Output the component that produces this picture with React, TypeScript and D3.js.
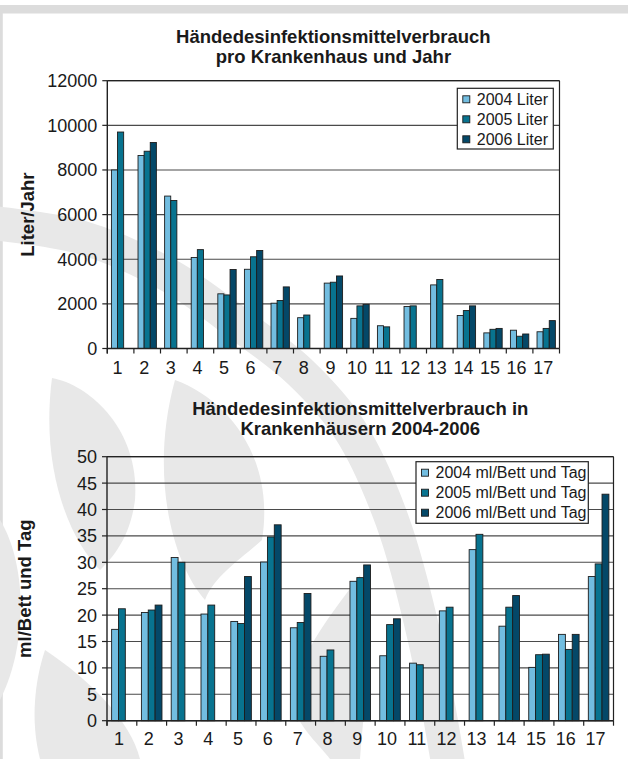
import React from "react";
import * as d3 from "d3";

// ---------- data ----------
const hospitals = ["1", "2", "3", "4", "5", "6", "7", "8", "9", "10", "11", "12", "13", "14", "15", "16", "17"];

const literSeries = ["2004 Liter", "2005 Liter", "2006 Liter"];
const liter2004 = [8000, 8650, 6830, 4080, 2450, 3550, 2030, 1380, 2930, 1350, 1020, 1880, 2850, 1480, 700, 820, 750];
const liter2005 = [9700, 8840, 6630, 4430, 2400, 4110, 2150, 1500, 2970, 1910, 970, 1910, 3090, 1700, 860, 550, 900];
const liter2006 = [null, 9230, null, null, 3540, 4390, 2760, null, 3250, 1980, null, null, null, 1910, 900, 650, 1250];
const literTicks = [0, 2000, 4000, 6000, 8000, 10000, 12000];

const mlSeries = ["2004 ml/Bett und Tag", "2005 ml/Bett und Tag", "2006 ml/Bett und Tag"];
const ml2004 = [17.3, 20.5, 30.9, 20.2, 18.8, 30.05, 17.6, 12.2, 26.4, 12.3, 10.9, 20.8, 32.4, 17.9, 10.1, 16.35, 27.3];
const ml2005 = [21.2, 20.96, 30.0, 21.9, 18.4, 34.8, 18.6, 13.4, 27.1, 18.2, 10.6, 21.5, 35.3, 21.5, 12.5, 13.5, 29.7];
const ml2006 = [null, 21.9, null, null, 27.3, 37.1, 24.1, null, 29.5, 19.3, null, null, null, 23.7, 12.6, 16.35, 42.9];
const mlTicks = [0, 5, 10, 15, 20, 25, 30, 35, 40, 45, 50];

const titleTop = ["Händedesinfektionsmittelverbrauch", "pro Krankenhaus und Jahr"];
const titleBottom = ["Händedesinfektionsmittelverbrauch in", "Krankenhäusern 2004-2006"];

const seriesColors = ["#72BDE0", "#08738F", "#044868"];

const FONT = "'Liberation Sans', Arial, Helvetica, sans-serif";

type Num = number | null;

interface ChartProps {
  left: number;
  right: number;
  top: number;
  bottom: number;
  title: string[];
  titleY: number[];
  yLabel: string;
  yLabelX: number;
  series: string[];
  values: Num[][];
  ticks: number[];
  legend: { x: number; y: number; w: number; h: number };
  xLabelY: number;
}

function BarChart(p: ChartProps) {
  const x0 = d3.scaleBand<string>().domain(hospitals).range([p.left, p.right]).paddingInner(0).paddingOuter(0);
  const bw = x0.bandwidth();
  const gw = bw * 0.69;
  const x1 = d3
    .scaleBand<string>()
    .domain(p.series)
    .range([(bw - gw) / 2, (bw + gw) / 2])
    .padding(0);
  const yMax = d3.max(p.ticks) as number;
  const y = d3.scaleLinear().domain([0, yMax]).range([p.bottom, p.top]);
  const cx = (p.left + p.right) / 2;
  const cy = (p.top + p.bottom) / 2;
  const tickBounds = d3.range(hospitals.length + 1).map((i) => p.left + i * bw);

  return (
    <g>
      {/* title */}
      {p.title.map((t, i) => (
        <text key={i} x={cx} y={p.titleY[i]} textAnchor="middle" fontWeight="bold" fontSize={18.5} fill="#1a1a1a">
          {t}
        </text>
      ))}
      {/* gridlines */}
      {p.ticks.map((t) => (
        <line key={t} x1={p.left} x2={p.right} y1={y(t)} y2={y(t)} stroke="#4a4a4a" strokeWidth={1.1} />
      ))}
      {/* bars */}
      {hospitals.map((h, i) => (
        <g key={h} transform={`translate(${x0(h)},0)`}>
          {p.series.map((s, si) => {
            const v = p.values[si][i];
            if (v == null) return null;
            return (
              <rect
                key={s}
                x={x1(s)}
                y={y(v)}
                width={x1.bandwidth()}
                height={y(0) - y(v)}
                fill={seriesColors[si]}
                stroke="#1c1c1c"
                strokeWidth={0.9}
              />
            );
          })}
        </g>
      ))}
      {/* plot border right + top */}
      <line x1={p.right} x2={p.right} y1={p.top} y2={p.bottom} stroke="#222" strokeWidth={1.2} />
      <line x1={p.left} x2={p.right} y1={p.top} y2={p.top} stroke="#222" strokeWidth={1.2} />
      {/* y axis */}
      <line x1={p.left} x2={p.left} y1={p.top} y2={p.bottom + 5} stroke="#222" strokeWidth={1.4} />
      {p.ticks.map((t) => (
        <g key={t}>
          <line x1={p.left - 5} x2={p.left} y1={y(t)} y2={y(t)} stroke="#222" strokeWidth={1.2} />
          <text x={p.left - 10} y={y(t)} dy="0.36em" textAnchor="end" fontSize={18} fill="#1a1a1a">
            {t}
          </text>
        </g>
      ))}
      {/* x axis */}
      <line x1={p.left} x2={p.right} y1={p.bottom} y2={p.bottom} stroke="#222" strokeWidth={1.4} />
      {tickBounds.map((tx, i) => (
        <line key={i} x1={tx} x2={tx} y1={p.bottom} y2={p.bottom + 5} stroke="#222" strokeWidth={1.2} />
      ))}
      {hospitals.map((h) => (
        <text key={h} x={(x0(h) as number) + bw / 2 - 3} y={p.xLabelY} textAnchor="middle" fontSize={18} fill="#1a1a1a">
          {h}
        </text>
      ))}
      {/* y label */}
      <text
        transform={`translate(${p.yLabelX},${cy}) rotate(-90)`}
        textAnchor="middle"
        fontWeight="bold"
        fontSize={18.5}
        fill="#1a1a1a"
      >
        {p.yLabel}
      </text>
      {/* legend */}
      <rect x={p.legend.x} y={p.legend.y} width={p.legend.w} height={p.legend.h} fill="#fff" stroke="#222" strokeWidth={1.2} />
      {p.series.map((s, si) => {
        const ry = p.legend.y + 11 + si * 20;
        return (
          <g key={s}>
            <rect x={p.legend.x + 5.5} y={ry - 3.5} width={7} height={7} fill={seriesColors[si]} stroke="#1c1c1c" strokeWidth={0.9} />
            <text x={p.legend.x + 19.5} y={ry} dy="0.36em" fontSize={16} fill="#1a1a1a">
              {s}
            </text>
          </g>
        );
      })}
    </g>
  );
}

function Watermark() {
  const arc = d3.line().curve(d3.curveCatmullRom.alpha(0.5))([
    [-20, 222],
    [80, 237],
    [170, 276],
    [240, 325],
    [300, 372],
    [350, 430],
    [392, 520],
    [425, 640],
    [450, 775],
  ]) as string;
  const g = "#e8e8e8";
  return (
    <g>
      <path d={arc} fill="none" stroke={g} strokeWidth={34} />
      {/* leaves */}
      <path d="M 52 378 C 90 385, 140 430, 135 500 C 130 540, 110 560, 100 570 C 70 540, 40 470, 52 378 Z" fill={g} />
      <path d="M 175 380 C 230 400, 275 460, 262 540 C 240 560, 215 575, 205 600 C 170 560, 150 470, 175 380 Z" fill={g} />
      <path d="M 360 575 C 335 610, 300 650, 290 700 C 300 730, 320 745, 330 759 L 360 759 C 365 700, 372 640, 360 575 Z" fill={g} />
      <path d="M 0 520 C 25 560, 30 640, 0 700 Z" fill={g} />
      <path d="M 45 650 C 90 680, 130 720, 140 759 L 40 759 C 30 720, 35 680, 45 650 Z" fill={g} />
    </g>
  );
}

export default function App() {
  return (
    <div style={{ position: "absolute", left: 0, top: 0, width: 628, height: 759, background: "#fff" }}>
      <svg width={628} height={759} style={{ display: "block", fontFamily: FONT }}>
        <rect x={0} y={0} width={628} height={759} fill="#fff" />
        <rect x={0} y={5} width={628} height={8.5} fill="#dcdcdc" />
        <rect x={0} y={5} width={2.8} height={754} fill="#dcdcdc" />
        <Watermark />
        <BarChart
          left={107.3}
          right={559.5}
          top={80.7}
          bottom={348.5}
          title={titleTop}
          titleY={[43.3, 63.3]}
          yLabel="Liter/Jahr"
          yLabelX={34}
          series={literSeries}
          values={[liter2004, liter2005, liter2006]}
          ticks={literTicks}
          legend={{ x: 457.3, y: 88.3, w: 96, h: 60.7 }}
          xLabelY={373.5}
        />
        <BarChart
          left={107}
          right={613.5}
          top={456.7}
          bottom={720.7}
          title={titleBottom}
          titleY={[415, 435]}
          yLabel="ml/Bett und Tag"
          yLabelX={31}
          series={mlSeries}
          values={[ml2004, ml2005, ml2006]}
          ticks={mlTicks}
          legend={{ x: 416, y: 461.7, w: 172.3, h: 61.6 }}
          xLabelY={745}
        />
      </svg>
    </div>
  );
}
